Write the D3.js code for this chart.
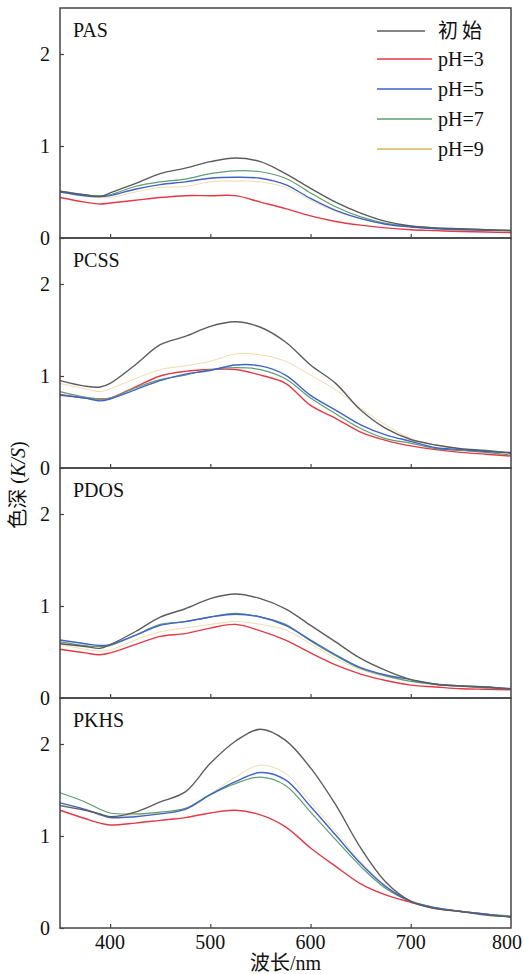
<!DOCTYPE html>
<html>
<head>
<meta charset="utf-8">
<script src="https://cdn.jsdelivr.net/npm/d3@7"></script>
<style>
  body { margin: 0; background: #fff; }
  text { font-family: "Liberation Serif", "Times New Roman", "Noto Sans CJK SC", serif; fill: #111; }
</style>
</head>
<body>
<script>
// Wavelengths (nm) shared by every curve.
var wavelengths = [350, 375, 390, 400, 425, 450, 475, 500, 525, 550, 575, 600, 625, 650, 675, 700, 725, 750, 775, 800];

// Series names and colours.
var seriesNames = ["初始", "pH=3", "pH=5", "pH=7", "pH=9"];
var seriesColors = ["#5c5c5c", "#e23a46", "#3f63c6", "#5e9e6e", "#d9b553"];
var panelNames = ["PAS", "PCSS", "PDOS", "PKHS"];

// K/S values, one array per panel and series.
var pasInit = [0.51, 0.47, 0.45, 0.49, 0.59, 0.70, 0.76, 0.83, 0.87, 0.83, 0.70, 0.54, 0.39, 0.27, 0.18, 0.13, 0.11, 0.10, 0.09, 0.08];
var pasPH3  = [0.44, 0.39, 0.37, 0.38, 0.41, 0.44, 0.46, 0.46, 0.46, 0.39, 0.32, 0.24, 0.18, 0.14, 0.11, 0.09, 0.08, 0.07, 0.065, 0.06];
var pasPH5  = [0.50, 0.46, 0.45, 0.46, 0.53, 0.58, 0.61, 0.65, 0.66, 0.65, 0.58, 0.43, 0.30, 0.21, 0.15, 0.12, 0.10, 0.09, 0.085, 0.08];
var pasPH7  = [0.51, 0.47, 0.46, 0.47, 0.56, 0.61, 0.64, 0.70, 0.73, 0.72, 0.65, 0.49, 0.34, 0.23, 0.16, 0.13, 0.11, 0.10, 0.09, 0.085];
var pasPH9  = [0.50, 0.45, 0.44, 0.44, 0.50, 0.55, 0.56, 0.61, 0.62, 0.61, 0.55, 0.41, 0.29, 0.21, 0.15, 0.12, 0.10, 0.09, 0.085, 0.08];

var pcssInit = [0.95, 0.89, 0.88, 0.92, 1.12, 1.34, 1.43, 1.54, 1.59, 1.53, 1.37, 1.12, 0.92, 0.63, 0.43, 0.31, 0.25, 0.21, 0.19, 0.16];
var pcssPH3  = [0.80, 0.76, 0.75, 0.76, 0.88, 1.00, 1.05, 1.07, 1.07, 1.01, 0.92, 0.68, 0.54, 0.39, 0.30, 0.24, 0.20, 0.17, 0.15, 0.13];
var pcssPH5  = [0.79, 0.76, 0.73, 0.75, 0.85, 0.95, 1.02, 1.06, 1.12, 1.11, 1.01, 0.79, 0.63, 0.47, 0.36, 0.29, 0.22, 0.20, 0.18, 0.17];
var pcssPH7  = [0.83, 0.77, 0.75, 0.76, 0.87, 0.96, 1.01, 1.07, 1.09, 1.07, 0.97, 0.76, 0.59, 0.43, 0.32, 0.27, 0.21, 0.19, 0.17, 0.14];
var pcssPH9  = [0.92, 0.86, 0.83, 0.86, 0.97, 1.07, 1.11, 1.16, 1.24, 1.23, 1.16, 1.01, 0.85, 0.65, 0.47, 0.32, 0.25, 0.21, 0.18, 0.16];

var pdosInit = [0.59, 0.56, 0.54, 0.58, 0.72, 0.88, 0.97, 1.08, 1.13, 1.08, 0.97, 0.79, 0.61, 0.43, 0.30, 0.20, 0.15, 0.13, 0.12, 0.10];
var pdosPH3  = [0.53, 0.49, 0.47, 0.49, 0.58, 0.67, 0.70, 0.76, 0.80, 0.73, 0.63, 0.49, 0.36, 0.26, 0.19, 0.14, 0.12, 0.10, 0.095, 0.09];
var pdosPH5  = [0.63, 0.59, 0.57, 0.58, 0.68, 0.79, 0.83, 0.88, 0.91, 0.88, 0.79, 0.63, 0.47, 0.33, 0.25, 0.20, 0.15, 0.13, 0.12, 0.10];
var pdosPH7  = [0.61, 0.57, 0.56, 0.57, 0.68, 0.80, 0.83, 0.88, 0.92, 0.88, 0.80, 0.62, 0.46, 0.32, 0.24, 0.18, 0.15, 0.13, 0.11, 0.10];
var pdosPH9  = [0.58, 0.53, 0.51, 0.52, 0.63, 0.72, 0.76, 0.80, 0.83, 0.80, 0.74, 0.59, 0.43, 0.31, 0.23, 0.18, 0.14, 0.12, 0.11, 0.10];

var pkhsInit = [1.33, 1.28, 1.24, 1.21, 1.26, 1.37, 1.48, 1.79, 2.03, 2.16, 2.04, 1.74, 1.34, 0.87, 0.50, 0.29, 0.21, 0.18, 0.14, 0.12];
var pkhsPH3  = [1.28, 1.19, 1.14, 1.12, 1.14, 1.17, 1.20, 1.25, 1.28, 1.23, 1.10, 0.87, 0.67, 0.48, 0.36, 0.28, 0.21, 0.18, 0.15, 0.12];
var pkhsPH5  = [1.36, 1.29, 1.23, 1.20, 1.21, 1.24, 1.29, 1.45, 1.59, 1.69, 1.61, 1.32, 1.01, 0.70, 0.45, 0.29, 0.22, 0.18, 0.15, 0.12];
var pkhsPH7  = [1.47, 1.37, 1.29, 1.25, 1.24, 1.26, 1.30, 1.45, 1.57, 1.64, 1.55, 1.26, 0.96, 0.67, 0.43, 0.29, 0.22, 0.18, 0.15, 0.13];
var pkhsPH9  = [1.34, 1.28, 1.24, 1.21, 1.23, 1.25, 1.30, 1.46, 1.64, 1.77, 1.68, 1.37, 1.05, 0.72, 0.46, 0.30, 0.22, 0.18, 0.15, 0.12];

var panelSeries = [
    [pasInit, pasPH3, pasPH5, pasPH7, pasPH9],
    [pcssInit, pcssPH3, pcssPH5, pcssPH7, pcssPH9],
    [pdosInit, pdosPH3, pdosPH5, pdosPH7, pdosPH9],
    [pkhsInit, pkhsPH3, pkhsPH5, pkhsPH7, pkhsPH9]
];

var xTicks = [400, 500, 600, 700, 800];
var yTicks = [0, 1, 2];

// Layout.
var width = 524, height = 974;
var plotLeft = 60, plotRight = 511, plotTop = 8, panelH = 230;
var fontSize = 20;

var svg = d3.select("body").append("svg")
    .attr("width", width)
    .attr("height", height);

var x = d3.scaleLinear().domain([350, 800]).range([plotLeft, plotRight]);

// Order the curves are drawn in: yellow first, gray on top of the others.
var drawOrder = [4, 1, 3, 2, 0];
var lineWidths = [1.4, 1.4, 1.4, 1.2, 0.8];
var plotColors = ["#5c5c5c", "#e23a46", "#3f63c6", "#5e9e6e", "#ecd398"];

panelSeries.forEach(function(series, p) {
    var y0 = plotTop + p * panelH;
    var y = d3.scaleLinear().domain([0, 2.5]).range([y0 + panelH, y0]);
    var g = svg.append("g").attr("class", "panel");

    var line = d3.line()
        .x(function(d, i) { return x(wavelengths[i]); })
        .y(function(d) { return y(d); })
        .curve(d3.curveCatmullRom.alpha(0.5));

    drawOrder.forEach(function(s) {
        g.append("path")
            .attr("d", line(series[s]))
            .attr("fill", "none")
            .attr("stroke", plotColors[s])
            .attr("stroke-width", lineWidths[s]);
    });

    // Left axis with inward ticks.
    var yAxis = g.append("g")
        .attr("transform", "translate(" + plotLeft + ",0)")
        .call(d3.axisRight(y).tickValues(yTicks).tickSize(4).tickFormat(""));
    yAxis.select(".domain").remove();
    yAxis.selectAll("line").attr("stroke", "#444").attr("stroke-width", 1.2);

    g.selectAll(".ylab")
        .data(yTicks)
        .join("text")
        .attr("class", "ylab")
        .attr("x", plotLeft - 10)
        .attr("y", function(d) { return y(d); })
        .attr("dy", "0.35em")
        .attr("text-anchor", "end")
        .attr("font-size", fontSize)
        .text(function(d) { return d; });

    // Bottom axis with inward ticks.
    var xAxis = g.append("g")
        .attr("transform", "translate(0," + (y0 + panelH) + ")")
        .call(d3.axisTop(x).tickValues(xTicks.slice(0, 4)).tickSize(4).tickFormat(""));
    xAxis.select(".domain").remove();
    xAxis.selectAll("line").attr("stroke", "#444").attr("stroke-width", 1.2);

    // Frame.
    g.append("rect")
        .attr("x", plotLeft)
        .attr("y", y0)
        .attr("width", plotRight - plotLeft)
        .attr("height", panelH)
        .attr("fill", "none")
        .attr("stroke", "#444")
        .attr("stroke-width", 1.5);

    // Panel name.
    g.append("text")
        .attr("x", 73)
        .attr("y", y0 + 29)
        .attr("font-size", fontSize)
        .text(panelNames[p]);
});

// X tick labels on the bottom panel only (the last one kept inside the page).
svg.selectAll(".xlab")
    .data(xTicks)
    .join("text")
    .attr("class", "xlab")
    .attr("x", function(d) { return d === 800 ? width - 2 : x(d); })
    .attr("y", plotTop + 4 * panelH + 21)
    .attr("text-anchor", function(d) { return d === 800 ? "end" : "middle"; })
    .attr("font-size", fontSize)
    .text(function(d) { return d; });

// Axis titles.
svg.append("text")
    .attr("x", (plotLeft + plotRight) / 2)
    .attr("y", 970)
    .attr("text-anchor", "middle")
    .attr("font-size", fontSize)
    .text("波长/nm");

var yTitle = svg.append("text")
    .attr("transform", "translate(25,485) rotate(-90)")
    .attr("text-anchor", "middle")
    .attr("font-size", fontSize);
yTitle.append("tspan").text("色深 (");
yTitle.append("tspan").attr("font-style", "italic").text("K/S");
yTitle.append("tspan").text(")");

// Legend.
var legend = svg.append("g").attr("class", "legend");
var legendY = [31, 59, 89, 119, 149];
seriesNames.forEach(function(name, i) {
    legend.append("line")
        .attr("x1", 377)
        .attr("x2", i === 0 ? 425 : 432)
        .attr("y1", legendY[i])
        .attr("y2", legendY[i])
        .attr("stroke", seriesColors[i])
        .attr("stroke-width", 1.6);
    legend.append("text")
        .attr("x", 438)
        .attr("y", legendY[i])
        .attr("dy", "0.35em")
        .attr("font-size", fontSize)
        .attr("letter-spacing", i === 0 ? 4 : 0)
        .text(name);
});
</script>
</body>
</html>
